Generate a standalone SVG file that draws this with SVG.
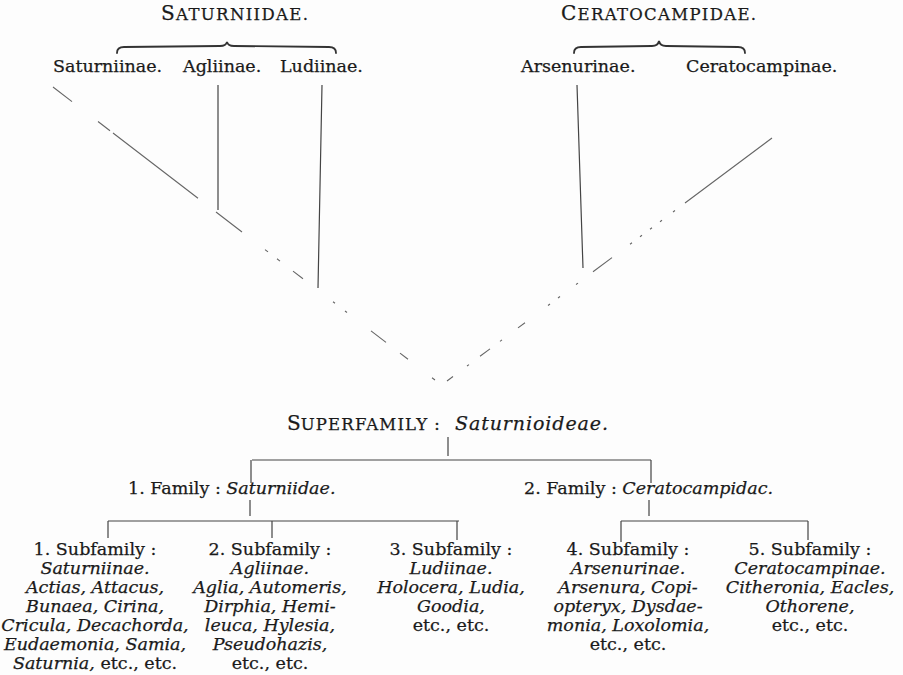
<svg xmlns="http://www.w3.org/2000/svg" width="903" height="675" viewBox="0 0 903 675">
<style>
text{font-family:"DejaVu Serif","Liberation Serif",serif;fill:#1a1a1a;stroke:#1a1a1a;stroke-width:0.25;font-size:17.5px}
.it{font-style:italic}
.c{text-anchor:middle}
.big{font-size:20px}
.sc{font-size:16.5px}
.ln{stroke:#444;stroke-width:1.2;fill:none}
.dg{stroke:#666;stroke-width:1.1;fill:none}
.br{stroke:#333;stroke-width:1.8;fill:none;stroke-linecap:round}
</style>
<rect width="903" height="675" fill="#fdfdfd"/>
<g id="fam-saturniidae">
<text x="161" y="20" textLength="147" lengthAdjust="spacing"><tspan class="big">S</tspan><tspan class="sc">ATURNIIDAE.</tspan></text>
<path class="br" d="M117,53 Q117,47 124,47 L220,46 Q226,46 227,42 Q228,46 234,46 L329,47 Q336,47 336,53"/>
</g>
<g id="fam-ceratocampidae">
<text x="561" y="20" textLength="195" lengthAdjust="spacing"><tspan class="big">C</tspan><tspan class="sc">ERATOCAMPIDAE.</tspan></text>
<path class="br" d="M574,53 Q574,47 581,47 L652,46 Q658,46 659,41 Q660,46 666,46 L738,47 Q745,47 745,53"/>
</g>
<g id="top-saturniinae"><text x="53" y="72">Saturniinae.</text></g>
<g id="top-agliinae"><text x="183" y="72">Agliinae.</text></g>
<g id="top-ludiinae"><text x="280" y="72">Ludiinae.</text></g>
<g id="top-arsenurinae"><text x="521" y="72">Arsenurinae.</text></g>
<g id="top-ceratocampinae"><text x="686" y="72">Ceratocampinae.</text></g>

<g id="superfamily">
<text x="287" y="430"><tspan class="big">S</tspan><tspan class="sc" style="letter-spacing:1.2px">UPERFAMILY</tspan></text>
<text x="434" y="430">:</text>
<text x="455" y="430" class="it" style="font-size:19px" textLength="153" lengthAdjust="spacing">Saturnioideae.</text>
</g>
<g id="family1"><text x="128" y="494">1. Family : <tspan class="it">Saturniidae.</tspan></text></g>
<g id="family2"><text x="524" y="494">2. Family : <tspan class="it">Ceratocampidac.</tspan></text></g>

<g id="sub1">
<text class="c" x="95" y="555">1. Subfamily :</text>
<text class="c it" x="95" y="574">Saturniinae.</text>
<text class="c it" x="95" y="593">Actias,  Attacus,</text>
<text class="c it" x="95" y="612">Bunaea, Cirina,</text>
<text class="c it" x="95" y="631">Cricula, Decachorda,</text>
<text class="c it" x="95" y="650">Eudaemonia, Samia,</text>
<text class="c" x="95" y="669"><tspan class="it">Saturnia,</tspan> etc., etc.</text>
</g>
<g id="sub2">
<text class="c" x="270" y="555">2. Subfamily :</text>
<text class="c it" x="270" y="574">Agliinae.</text>
<text class="c it" x="270" y="593">Aglia, Automeris,</text>
<text class="c it" x="270" y="612">Dirphia, Hemi-</text>
<text class="c it" x="270" y="631">leuca, Hylesia,</text>
<text class="c it" x="270" y="650">Pseudohazis,</text>
<text class="c" x="270" y="669">etc., etc.</text>
</g>
<g id="sub3">
<text class="c" x="451" y="555">3. Subfamily :</text>
<text class="c it" x="451" y="574">Ludiinae.</text>
<text class="c it" x="451" y="593">Holocera, Ludia,</text>
<text class="c it" x="451" y="612">Goodia,</text>
<text class="c" x="451" y="631">etc., etc.</text>
</g>
<g id="sub4">
<text class="c" x="628" y="555">4. Subfamily :</text>
<text class="c it" x="628" y="574">Arsenurinae.</text>
<text class="c it" x="628" y="593">Arsenura, Copi-</text>
<text class="c it" x="628" y="612">opteryx, Dysdae-</text>
<text class="c it" x="628" y="631">monia, Loxolomia,</text>
<text class="c" x="628" y="650">etc., etc.</text>
</g>
<g id="sub5">
<text class="c" x="810" y="555">5. Subfamily :</text>
<text class="c it" x="810" y="574">Ceratocampinae.</text>
<text class="c it" x="810" y="593">Citheronia, Eacles,</text>
<text class="c it" x="810" y="612">Othorene,</text>
<text class="c" x="810" y="631">etc., etc.</text>
</g>

<g id="connectors">
<path class="ln" d="M218,85 L218,210 M322,85 L318,288 M577,85 L583,268"/>
<path class="dg" d="M53,87 L72,101.6 M98,121.5 L110,130.7 M113,133 L198,198.2 M216,212 L242,232 M265,249.6 L268,251.9 M277,258.8 L280,261.1 M293,271.1 L303,278.8 M333,301.8 L335,303.3 M345,311 L347,312.5 M371,330.9 L386,342.4 M400,353.1 L408,359.3 M432,377.7 L435,380"/>
<path class="dg" d="M772,138 L685,203 M675,210.5 L673,212 M662,220.2 L660,221.7 M652,227.7 L650,229.2 M642,235.2 L640,236.7 M632,242.7 L630,244.2 M612,257.6 L593,271.8 M578,283.1 L576,284.5 M560,296.5 L558,298 M550,304 L548,305.5 M525,322.7 L518,327.9 M502,339.9 L500,341.4 M490,348.9 L480,356.3 M469,364.6 L467,366 M453,376.5 L447,381"/>
<path class="ln" d="M448,437 L448,456 M252,460 L651,460 M251,460 L251,483 M651,460 L651,483 M250,500 L250,516 M649,500 L649,516 M108,521 L459,521 M108,521 L108,538 M272,521 L272,538 M457,521 L457,540 M621,521 L808,521 M621,521 L621,542 M808,521 L808,540"/>
</g>
</svg>
